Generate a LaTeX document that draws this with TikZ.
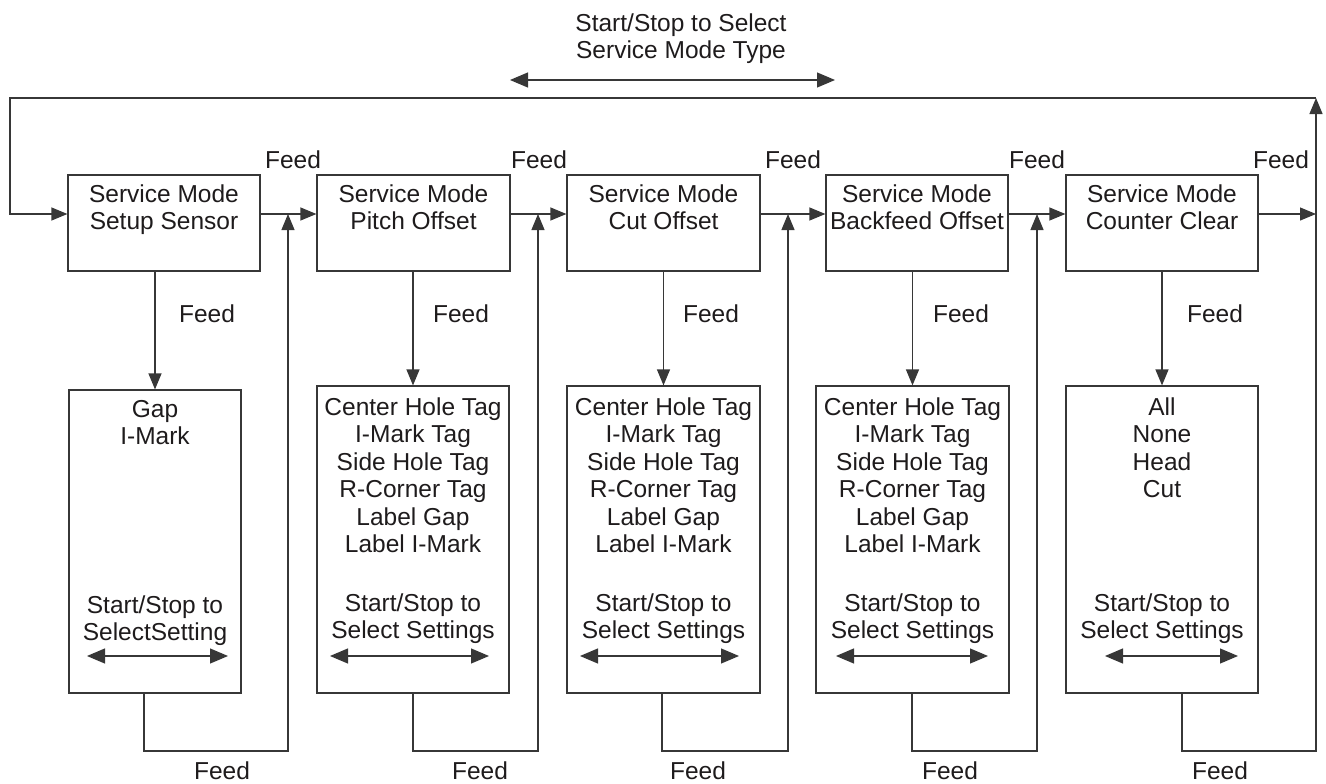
\documentclass[tikz,border=0pt]{standalone}
\usepackage{fontspec}
\setmainfont{Liberation Sans}
\usetikzlibrary{arrows.meta}
\definecolor{ink}{RGB}{30,27,28}
\definecolor{ln}{RGB}{55,55,55}
\begin{document}
\begin{tikzpicture}[x=1pt,y=-1pt,
  box/.style={draw=ln, line width=1.2pt, rectangle, inner sep=0pt},
  txt/.style={text=ink, font=\fontsize{24.5}{27.5}\selectfont, align=center, inner sep=0pt, anchor=north},
  lbl/.style={text=ink, font=\fontsize{24.5}{27.5}\selectfont, inner sep=0pt, anchor=base},
  conn/.style={draw=ln, line width=1.2pt},
  arr/.style={conn, -{Triangle[length=16pt,width=13pt]}},
  dbl/.style={conn, {Triangle[length=18pt,width=15pt]}-{Triangle[length=18pt,width=15pt]}},
]
\useasboundingbox (0,0) rectangle (1326,784);

% top boxes
\node[box, minimum width=192pt, minimum height=96pt] (t1) at (164,223) {};
\node[box, minimum width=193pt, minimum height=96pt] (t2) at (413.5,223) {};
\node[box, minimum width=193pt, minimum height=96pt] (t3) at (663.5,223) {};
\node[box, minimum width=182pt, minimum height=96pt] (t4) at (917,223) {};
\node[box, minimum width=192pt, minimum height=96pt] (t5) at (1162,223) {};

\node[txt] (t1x) at (164,182.75) {\strut Service Mode\\Setup Sensor};
\node[txt] (t2x) at (413.5,182.75) {\strut Service Mode\\Pitch Offset};
\node[txt] (t3x) at (663.5,182.75) {\strut Service Mode\\Cut Offset};
\node[txt] (t4x) at (917,182.75) {\strut Service Mode\\Backfeed Offset};
\node[txt] (t5x) at (1162,182.75) {\strut Service Mode\\Counter Clear};

% bottom boxes
\node[box, minimum width=172pt, minimum height=303pt] (b1) at (155,541.5) {};
\node[box, minimum width=192pt, minimum height=307pt] (b2) at (413,539.5) {};
\node[box, minimum width=193pt, minimum height=307pt] (b3) at (663.5,539.5) {};
\node[box, minimum width=193pt, minimum height=307pt] (b4) at (912.5,539.5) {};
\node[box, minimum width=192pt, minimum height=307pt] (b5) at (1162,539.5) {};

\node[txt] (b1x) at (155,397.75) {\strut Gap\\I-Mark};
\node[txt] (b2x) at (413,395.75) {\strut Center Hole Tag\\I-Mark Tag\\Side Hole Tag\\R-Corner Tag\\Label Gap\\Label I-Mark};
\node[txt] (b3x) at (663.5,395.75) {\strut Center Hole Tag\\I-Mark Tag\\Side Hole Tag\\R-Corner Tag\\Label Gap\\Label I-Mark};
\node[txt] (b4x) at (912.5,395.75) {\strut Center Hole Tag\\I-Mark Tag\\Side Hole Tag\\R-Corner Tag\\Label Gap\\Label I-Mark};
\node[txt] (b5x) at (1162,395.75) {\strut All\\None\\Head\\Cut};

\node[txt] (b1s) at (155,593.75) {\strut Start/Stop to\\SelectSetting};
\node[txt] (b2s) at (413,591.75) {\strut Start/Stop to\\Select Settings};
\node[txt] (b3s) at (663.5,591.75) {\strut Start/Stop to\\Select Settings};
\node[txt] (b4s) at (912.5,591.75) {\strut Start/Stop to\\Select Settings};
\node[txt] (b5s) at (1162,591.75) {\strut Start/Stop to\\Select Settings};

% selection arrows inside bottom boxes
\coordinate (l1) at (87,656);   \coordinate (r1) at (228,656);
\coordinate (l2) at (330,656);  \coordinate (r2) at (489,656);
\coordinate (l3) at (580,656);  \coordinate (r3) at (739,656);
\coordinate (l4) at (836,656);  \coordinate (r4) at (988,656);
\coordinate (l5) at (1105,656); \coordinate (r5) at (1238,656);
\foreach \i in {1,...,5} { \draw[dbl] (l\i) -- (r\i); }

% top caption and arrow
\node[txt] (cap) at (681,11.75) {\strut Start/Stop to Select\\Service Mode Type};
\coordinate (cl) at (510,80); \coordinate (cr) at (835,80);
\draw[dbl] (cl) -- (cr);

% main flow line level
\coordinate (y0) at (0,214);
\coordinate (u1) at (288,214);
\coordinate (u2) at (538,214);
\coordinate (u3) at (788,214);
\coordinate (u4) at (1037,214);
\coordinate (u5) at (1316,98);
\coordinate (c1) at (288,751);
\coordinate (c2) at (538,751);
\coordinate (c3) at (788,751);
\coordinate (c4) at (1037,751);
\coordinate (c5) at (1316,751);
\coordinate (tl) at (10,98);

\draw[arr] (t1.east |- y0) -- (t2.west |- y0);
\draw[arr] (t2.east |- y0) -- (t3.west |- y0);
\draw[arr] (t3.east |- y0) -- (t4.west |- y0);
\draw[arr] (t4.east |- y0) -- (t5.west |- y0);
\draw[arr] (t5.east |- y0) -- (u5 |- y0);

% down arrows
\foreach \i in {1,...,5} { \draw[arr] (t\i.south -| b\i.north) -- (b\i.north); }

% return loops
\draw[arr] ([xshift=-11pt]b1.south) |- (c1) -- (u1);
\draw[arr] (b2.south) |- (c2) -- (u2);
\draw[arr] ([xshift=-1.5pt]b3.south) |- (c3) -- (u3);
\draw[arr] ([xshift=-0.5pt]b4.south) |- (c4) -- (u4);
\draw[arr] ([xshift=20pt]b5.south) |- (c5) -- (u5);
\draw[arr] (u5) -- (tl) -- (tl |- y0) -- (t1.west |- y0);

% Feed labels
\node[lbl] (f1) at (293,168) {Feed};
\node[lbl] (f2) at (539,168) {Feed};
\node[lbl] (f3) at (793,168) {Feed};
\node[lbl] (f4) at (1037,168) {Feed};
\node[lbl] (f5) at (1281,168) {Feed};
\node[lbl] (g1) at (207,322) {Feed};
\node[lbl] (g2) at (461,322) {Feed};
\node[lbl] (g3) at (711,322) {Feed};
\node[lbl] (g4) at (961,322) {Feed};
\node[lbl] (g5) at (1215,322) {Feed};
\node[lbl] (h1) at (222,779) {Feed};
\node[lbl] (h2) at (480,779) {Feed};
\node[lbl] (h3) at (698,779) {Feed};
\node[lbl] (h4) at (950,779) {Feed};
\node[lbl] (h5) at (1220,779) {Feed};
\end{tikzpicture}
\end{document}
